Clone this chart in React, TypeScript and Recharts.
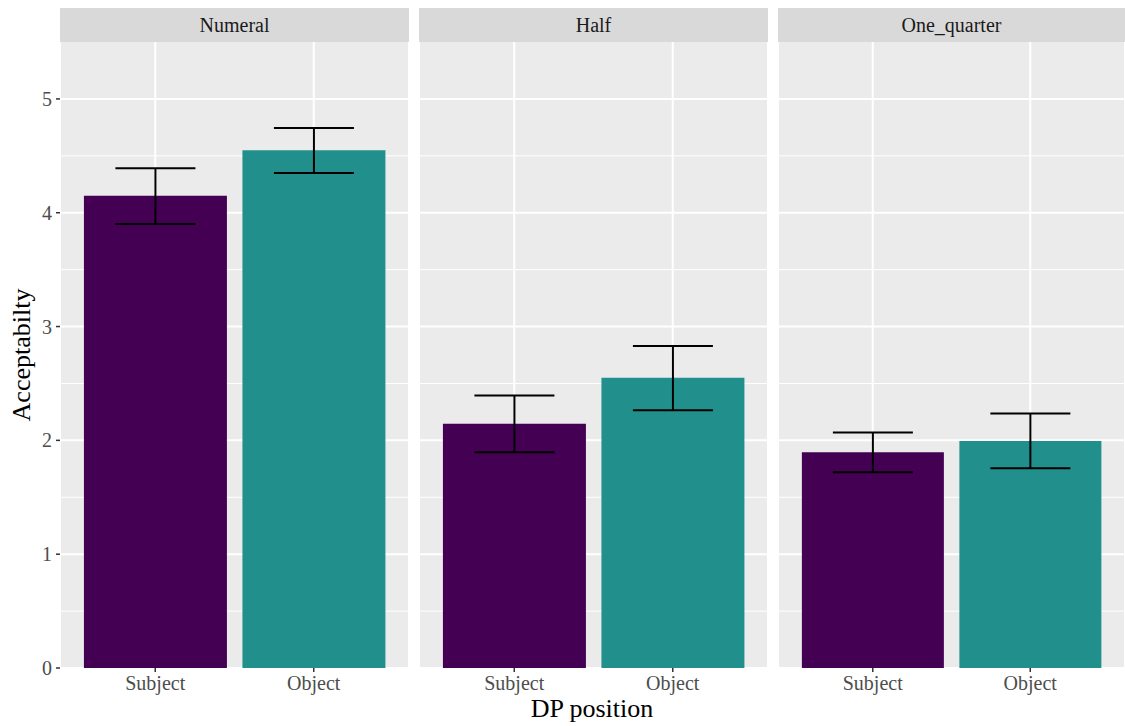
import React from "react";
import {
  Bar,
  BarChart,
  CartesianGrid,
  Cell,
  ErrorBar,
  XAxis,
  YAxis,
} from "recharts";

const positions = ["Subject", "Object"];
const facets = ["Numeral", "Half", "One_quarter"];

const numeralMeans = [4.15, 4.55];
const numeralLow = [3.9, 4.35];
const numeralHigh = [4.39, 4.745];

const halfMeans = [2.145, 2.55];
const halfLow = [1.895, 2.265];
const halfHigh = [2.395, 2.83];

const quarterMeans = [1.895, 1.995];
const quarterLow = [1.72, 1.755];
const quarterHigh = [2.07, 2.235];

const yTicks = [0, 1, 2, 3, 4, 5];
const minorTicks = [0.5, 1.5, 2.5, 3.5, 4.5];

const FILLS: Record<string, string> = {
  Subject: "#440154",
  Object: "#21908C",
};

const FONT = '"Liberation Serif", "DejaVu Serif", serif';
const PLOT_TOP = 42;
const PLOT_H = 626;

interface PanelProps {
  title: string;
  means: number[];
  low: number[];
  high: number[];
  left: number;
  width: number;
  showY: boolean;
}

function Panel({ title, means, low, high, left, width, showY }: PanelProps) {
  const data = positions.map((p, i) => ({
    pos: p,
    value: means[i],
    err: [means[i] - low[i], high[i] - means[i]],
  }));
  const yW = showY ? 60 : 0;

  return (
    <>
      <div
        style={{
          position: "absolute",
          left: left + yW,
          top: 8,
          width,
          height: 34,
          background: "#D9D9D9",
          color: "#1A1A1A",
          fontSize: 20,
          lineHeight: "34px",
          textAlign: "center",
        }}
      >
        {title}
      </div>
      <div style={{ position: "absolute", left, top: PLOT_TOP }}>
        <BarChart
          width={width + yW}
          height={PLOT_H + 34}
          data={data}
          margin={{ top: 0, right: 0, bottom: 0, left: 0 }}
          barCategoryGap="5%"
        >
          <CartesianGrid
            fill="#EBEBEB"
            stroke="#FFFFFF"
            strokeWidth={1}
            vertical={false}
            horizontalValues={minorTicks}
          />
          <CartesianGrid
            stroke="#FFFFFF"
            strokeWidth={2}
            horizontalValues={yTicks}
          />
          <XAxis
            dataKey="pos"
            height={34}
            padding={{ left: 16, right: 16 }}
            axisLine={false}
            tickSize={4}
            tickMargin={4}
            tickLine={{ stroke: "#333333", strokeWidth: 1.5 }}
            tick={{ fill: "#4D4D4D", fontSize: 20, fontFamily: FONT }}
          />
          <YAxis
            hide={!showY}
            width={60}
            domain={[0, 5.5]}
            ticks={yTicks}
            allowDataOverflow
            axisLine={false}
            tickSize={4}
            tickMargin={4}
            tickLine={{ stroke: "#333333", strokeWidth: 1.5 }}
            tick={{ fill: "#4D4D4D", fontSize: 20, fontFamily: FONT }}
          />
          <Bar dataKey="value" isAnimationActive={false}>
            {data.map((d) => (
              <Cell key={d.pos} fill={FILLS[d.pos]} />
            ))}
            <ErrorBar
              dataKey="err"
              width={40}
              stroke="#000000"
              strokeWidth={2}
              isAnimationActive={false}
            />
          </Bar>
        </BarChart>
      </div>
    </>
  );
}

export default function App() {
  return (
    <div
      style={{
        position: "fixed",
        left: 0,
        top: 0,
        width: 1125,
        height: 726,
        background: "#FFFFFF",
        fontFamily: FONT,
        overflow: "hidden",
      }}
    >
      <Panel
        title={facets[0]}
        means={numeralMeans}
        low={numeralLow}
        high={numeralHigh}
        left={0}
        width={349}
        showY
      />
      <Panel
        title={facets[1]}
        means={halfMeans}
        low={halfLow}
        high={halfHigh}
        left={419}
        width={349}
        showY={false}
      />
      <Panel
        title={facets[2]}
        means={quarterMeans}
        low={quarterLow}
        high={quarterHigh}
        left={778}
        width={347}
        showY={false}
      />
      <div
        style={{
          position: "absolute",
          left: 22,
          top: 355,
          transform: "translate(-50%, -50%) rotate(-90deg)",
          fontSize: 26,
          color: "#000000",
          whiteSpace: "nowrap",
        }}
      >
        Acceptabilty
      </div>
      <div
        style={{
          position: "absolute",
          left: 592,
          top: 709,
          transform: "translate(-50%, -50%)",
          fontSize: 26,
          color: "#000000",
          whiteSpace: "nowrap",
        }}
      >
        DP position
      </div>
    </div>
  );
}
